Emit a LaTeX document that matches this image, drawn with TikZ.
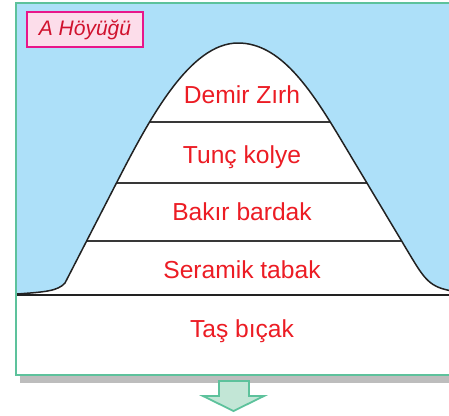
\documentclass[tikz,border=0pt]{standalone}
\usepackage{fontspec}
\setmainfont{Liberation Sans}
\definecolor{sky}{HTML}{ADE0F9}
\definecolor{framegreen}{HTML}{5DC29C}
\definecolor{arrowfill}{HTML}{C2E6D6}
\definecolor{shadowgray}{HTML}{BDBDBD}
\definecolor{layertext}{HTML}{EC1C24}
\definecolor{labeltext}{HTML}{D0122E}
\definecolor{labelfill}{HTML}{FCDDEA}
\definecolor{labeldraw}{HTML}{E8168A}
\definecolor{outline}{HTML}{222222}
\tikzset{
  layerlabel/.style={text=layertext, font=\fontsize{24.6}{28}\selectfont, anchor=base, inner sep=0pt},
  layerline/.style={draw=outline!90, line width=1.4pt},
  titlebox/.style={draw=labeldraw, fill=labelfill, line width=1.2pt, minimum width=116pt, minimum height=35pt, inner sep=0pt, text=labeltext, font=\fontsize{21}{24}\selectfont\itshape},
  downarrow/.style={draw=framegreen, fill=arrowfill, line width=1.8pt, line join=miter}
}
\begin{document}
\begin{tikzpicture}[x=1pt,y=-1pt]
\useasboundingbox (0,0) rectangle (449,415);
\clip (0,0) rectangle (449,415);
% shadow
\fill[shadowgray] (20,375) rectangle (460,383);
% frame body
\fill[white] (16,3) rectangle (460,375);
\fill[sky] (16,3) rectangle (460,295);
% mound
\def\mound{(17,294) .. controls (45,292) and (58,291) .. (65,283) -- (118,180) .. controls (150,118) and (190,43) .. (238,43) .. controls (280,43) and (310,88) .. (340,138) -- (410,255) .. controls (425,280) and (430,287) .. (452,291) -- (452,295) -- (17,295) -- cycle}
\fill[white] \mound;
\begin{scope}
  \clip \mound;
  \draw[layerline] (0,122) -- (460,122);
  \draw[layerline] (0,183) -- (460,183);
  \draw[layerline] (0,241) -- (460,241);
\end{scope}
\draw[outline, line width=1.5pt, line join=round] (17,294) .. controls (45,292) and (58,291) .. (65,283) -- (118,180) .. controls (150,118) and (190,43) .. (238,43) .. controls (280,43) and (310,88) .. (340,138) -- (410,255) .. controls (425,280) and (430,287) .. (452,291);
\draw[outline, line width=1.6pt] (17,295) -- (460,295);
% frame outline
\draw[framegreen, line width=2.6pt] (460,375) -- (16,375) -- (16,3) -- (460,3);
% title
\node[titlebox] (title) at (85,29.5) {A Höyüğü};
% layers
\node[layerlabel] (demir) at (242,103) {Demir Zırh};
\node[layerlabel] (tunc) at (242,163) {Tunç kolye};
\node[layerlabel] (bakir) at (242,220) {Bakır bardak};
\node[layerlabel] (seramik) at (242,278) {Seramik tabak};
\node[layerlabel] (tas) at (242,337) {Taş bıçak};
% arrow
\draw[downarrow] (219,381) -- (249,381) -- (249,396) -- (264,396) -- (233.5,411) -- (203,396) -- (219,396) -- cycle;
\end{tikzpicture}
\end{document}
